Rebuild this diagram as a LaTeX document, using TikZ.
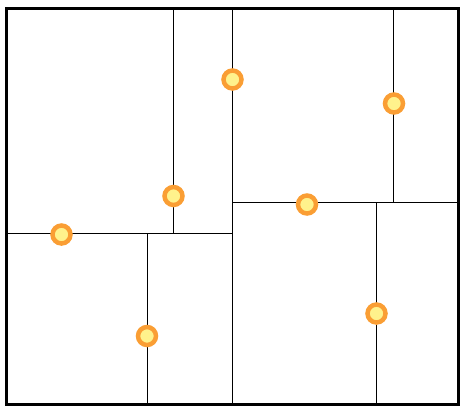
\documentclass[tikz,border=0pt]{standalone}
\usepackage{tikz}
\usetikzlibrary{positioning}

\definecolor{ptorange}{RGB}{250,158,52}
\definecolor{ptyellow}{RGB}{255,242,140}

\begin{document}
\begin{tikzpicture}[x=1pt,y=-1pt,
    split/.style={line width=1pt},
    kdpoint/.style={circle,draw=ptorange,fill=ptyellow,line width=4.5pt,
      minimum size=18pt,inner sep=0pt}]
    \useasboundingbox (0,0) rectangle (466,413);
    % Splitting lines of the tree
    \draw[split] (232,8.5) -- (232,404);
    \draw[split] (6.5,233) -- (232,233);
    \draw[split] (173.5,8.5) -- (173.5,233);
    \draw[split] (147,233) -- (147,404);
    \draw[split] (232,202) -- (458,202);
    \draw[split] (393.5,8.5) -- (393.5,202);
    \draw[split] (376.5,202) -- (376.5,404);
    % Outer box
    \draw[line width=3pt] (6.5,8.5) rectangle (458,404);
    % Points stored in the tree
    \node[kdpoint] (p1) at (232.5,79.5) {};
    \node[kdpoint] (p2) at (61.5,234.5) {};
    \node[kdpoint] (p3) at (173.5,196) {};
    \node[kdpoint] (p4) at (147,336) {};
    \node[kdpoint] (p5) at (307,204.5) {};
    \node[kdpoint] (p6) at (394,103.5) {};
    \node[kdpoint] (p7) at (376.5,313.5) {};
\end{tikzpicture}
\end{document}
